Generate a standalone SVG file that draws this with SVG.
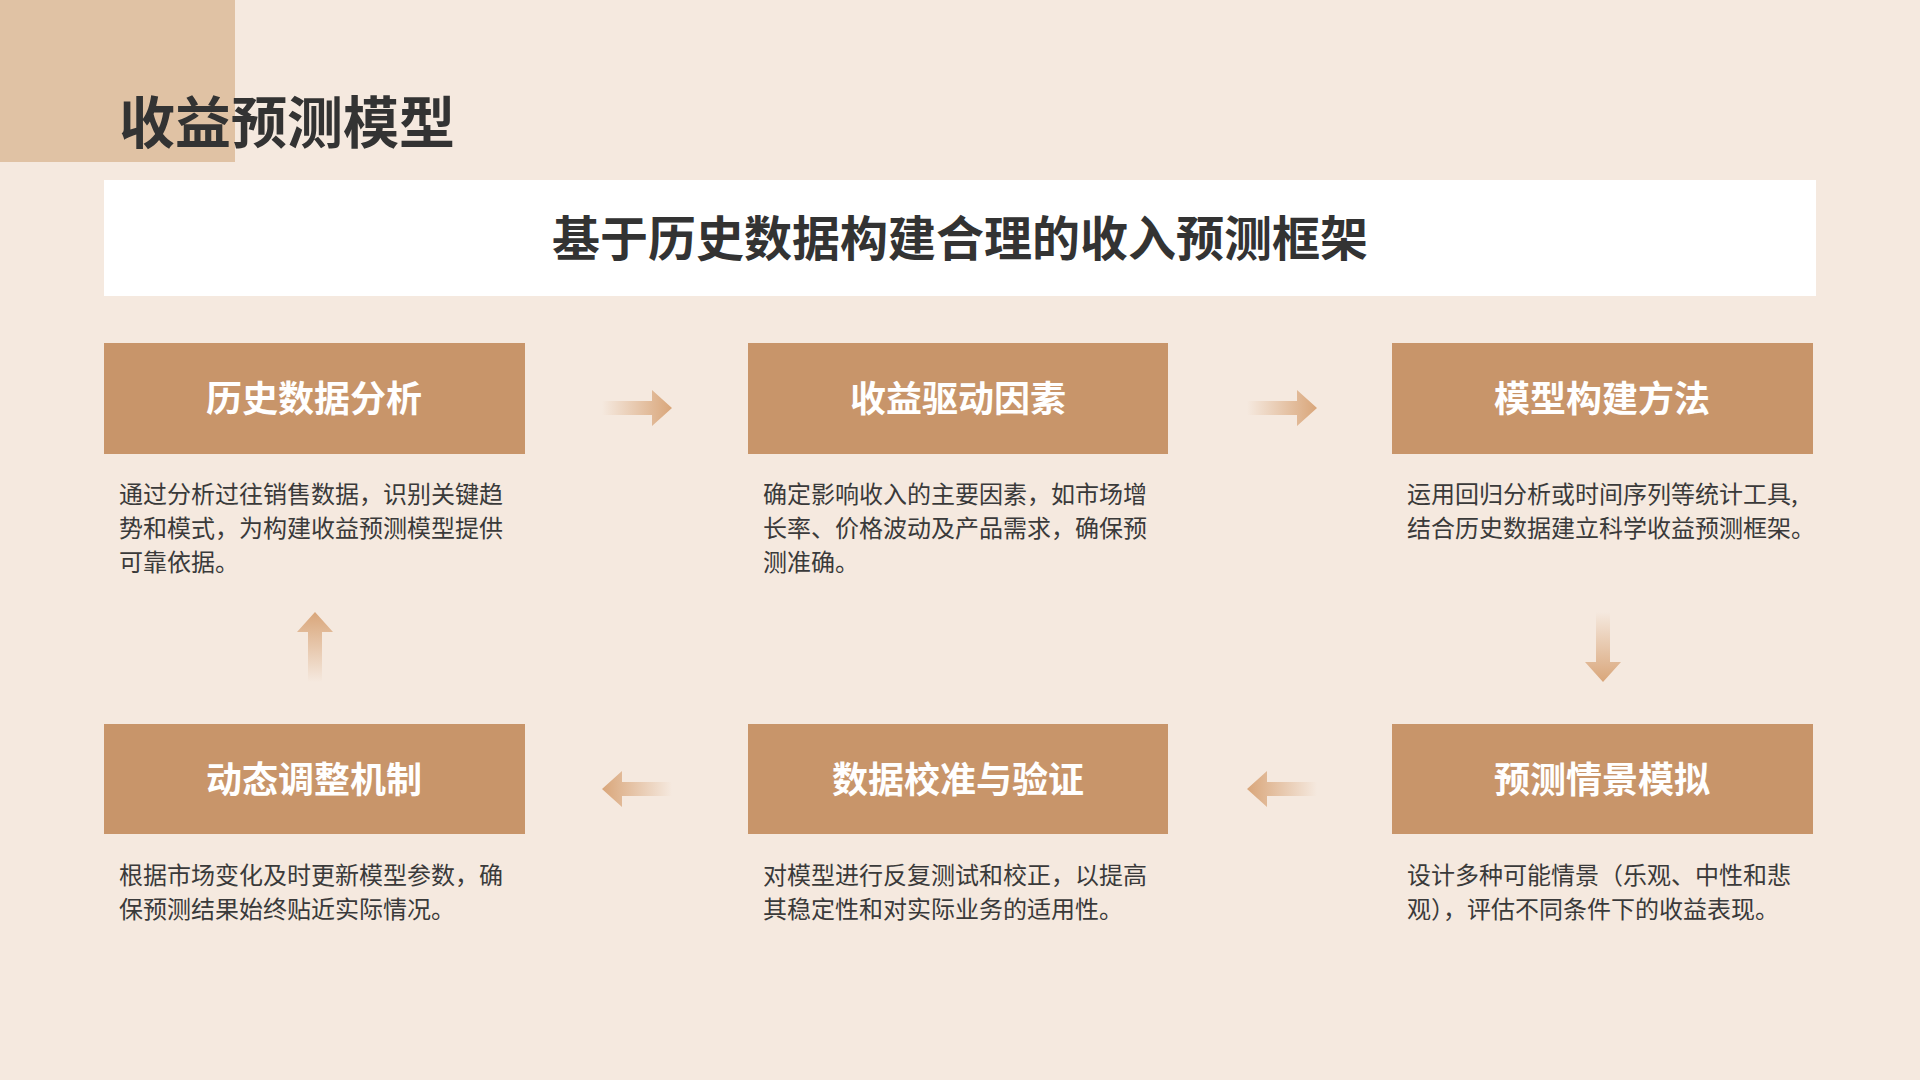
<svg xmlns="http://www.w3.org/2000/svg" width="1920" height="1080" viewBox="0 0 1920 1080">
<style>
.box{fill:#c8956a}
.bt{font-family:"Noto Sans CJK SC","Noto Sans",sans-serif;font-size:36px;font-weight:bold;fill:#fff;text-anchor:middle}
.d{font-family:"Noto Sans CJK SC","Noto Sans",sans-serif;font-size:24px;fill:#3a3a3a}
</style>
<defs>
<linearGradient id="g" x1="0" y1="0" x2="1" y2="0">
<stop offset="0" stop-color="#d9a67a" stop-opacity="0"/>
<stop offset="1" stop-color="#d9a67a"/>
</linearGradient>
<path id="arr" d="M-35,-7 H15 V-18 L35,0 L15,18 V7 H-35 Z" fill="url(#g)"/>
</defs>
<rect width="1920" height="1080" fill="#f5e9df"/>
<rect width="235" height="162" fill="#e0c2a4"/>
<text x="119" y="143" font-family="Noto Sans CJK SC,sans-serif" font-size="56" font-weight="bold" fill="#333">收益预测模型</text>
<rect x="104" y="180" width="1712" height="116" fill="#fff"/>
<text x="960" y="256" text-anchor="middle" font-family="Noto Sans CJK SC,sans-serif" font-size="48" font-weight="bold" fill="#333">基于历史数据构建合理的收入预测框架</text>

<g id="n1"><rect class="box" x="104" y="343" width="421" height="111"/><text class="bt" x="314" y="412">历史数据分析</text>
<text class="d" x="119" y="503">通过分析过往销售数据，识别关键趋</text><text class="d" x="119" y="537">势和模式，为构建收益预测模型提供</text><text class="d" x="119" y="571">可靠依据。</text></g>
<g id="n2"><rect class="box" x="748" y="343" width="420" height="111"/><text class="bt" x="958" y="412">收益驱动因素</text>
<text class="d" x="763" y="503">确定影响收入的主要因素，如市场增</text><text class="d" x="763" y="537">长率、价格波动及产品需求，确保预</text><text class="d" x="763" y="571">测准确。</text></g>
<g id="n3"><rect class="box" x="1392" y="343" width="421" height="111"/><text class="bt" x="1602" y="412">模型构建方法</text>
<text class="d" x="1407" y="503">运用回归分析或时间序列等统计工具,</text><text class="d" x="1407" y="537">结合历史数据建立科学收益预测框架。</text></g>
<g id="n4"><rect class="box" x="1392" y="724" width="421" height="110"/><text class="bt" x="1602" y="793">预测情景模拟</text>
<text class="d" x="1407" y="884">设计多种可能情景（乐观、中性和悲</text><text class="d" x="1407" y="918">观），评估不同条件下的收益表现。</text></g>
<g id="n5"><rect class="box" x="748" y="724" width="420" height="110"/><text class="bt" x="958" y="793">数据校准与验证</text>
<text class="d" x="763" y="884">对模型进行反复测试和校正，以提高</text><text class="d" x="763" y="918">其稳定性和对实际业务的适用性。</text></g>
<g id="n6"><rect class="box" x="104" y="724" width="421" height="110"/><text class="bt" x="314" y="793">动态调整机制</text>
<text class="d" x="119" y="884">根据市场变化及时更新模型参数，确</text><text class="d" x="119" y="918">保预测结果始终贴近实际情况。</text></g>

<g id="connectors">
<use href="#arr" transform="translate(637,408)"/>
<use href="#arr" transform="translate(1282,408)"/>
<use href="#arr" transform="translate(1603,647) rotate(90)"/>
<use href="#arr" transform="translate(1282,789) rotate(180)"/>
<use href="#arr" transform="translate(637,789) rotate(180)"/>
<use href="#arr" transform="translate(315,647) rotate(-90)"/>
</g>
</svg>
